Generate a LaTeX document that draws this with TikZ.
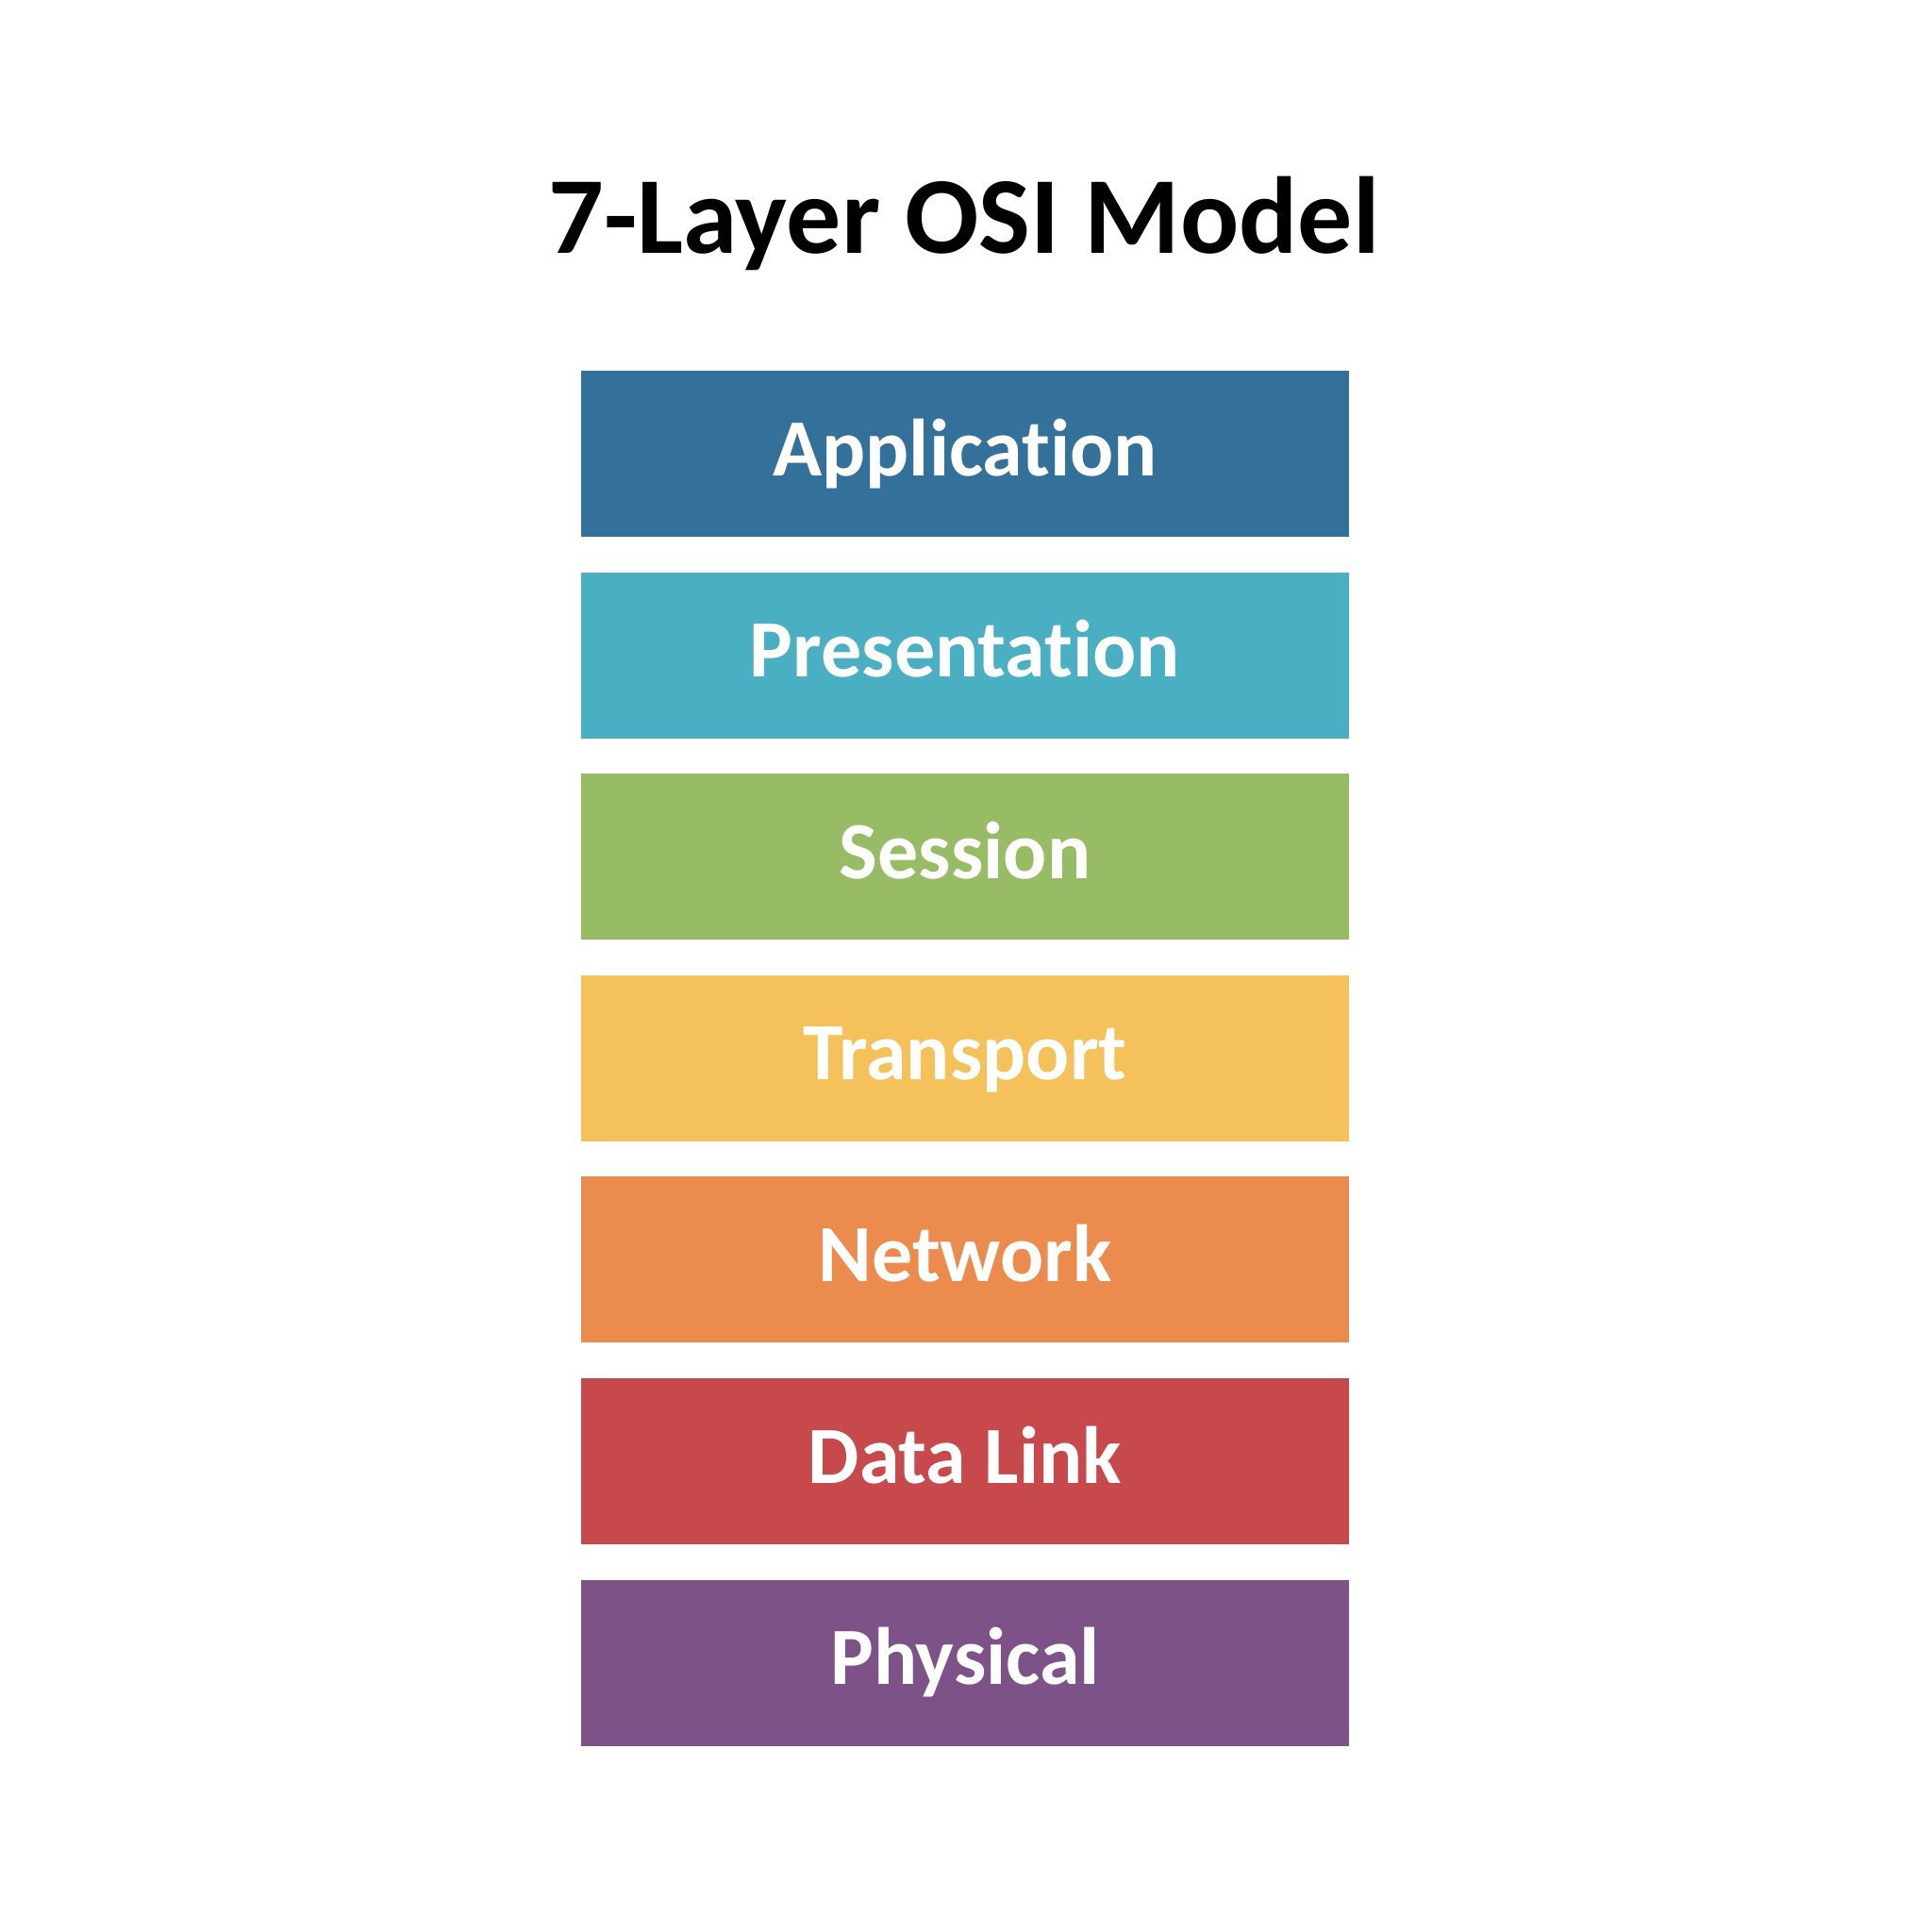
\documentclass[tikz,border=0pt]{standalone}
\usepackage{fontspec}
\setmainfont[Ligatures={NoCommon,NoRare,NoContextual}]{Carlito}
\usepackage{tikz}
\usetikzlibrary{positioning}
\definecolor{appl}{HTML}{33709A}
\definecolor{pres}{HTML}{4BAFC4}
\definecolor{sess}{HTML}{98BC66}
\definecolor{trans}{HTML}{F4C15A}
\definecolor{netw}{HTML}{EC8B4E}
\definecolor{dlink}{HTML}{C8494B}
\definecolor{phys}{HTML}{7D5288}
\tikzset{
  layer/.style = {rectangle, minimum width=8.14cm, minimum height=1.76cm,
    inner sep=0pt, text=white, font=\fontsize{24.5}{30}\selectfont\bfseries,
    text height=0.46cm, text depth=0pt},% one OSI layer
  heading/.style = {font=\fontsize{33}{40}\selectfont\bfseries, inner sep=0pt}
}

\begin{document}
\begin{tikzpicture}[node distance=0.362cm]
  \useasboundingbox [fill=white] (0,0) rectangle (20.48,-20.48);
  \node [heading, anchor=base] (title) at (10.22,-2.68) {7-Layer OSI Model};
  \node [layer, fill=appl] (app) at (10.23,-4.81) {Application};
  \node [layer, fill=pres, below=of app] (pre) {Presentation};
  \node [layer, fill=sess, below=of pre] (ses) {Session};
  \node [layer, fill=trans, below=of ses] (tra) {Transport};
  \node [layer, fill=netw, below=of tra] (net) {Network};
  \node [layer, fill=dlink, below=of net] (dat) {Data Link};
  \node [layer, fill=phys, below=of dat] (phy) {Physical};
\end{tikzpicture}
\end{document}
